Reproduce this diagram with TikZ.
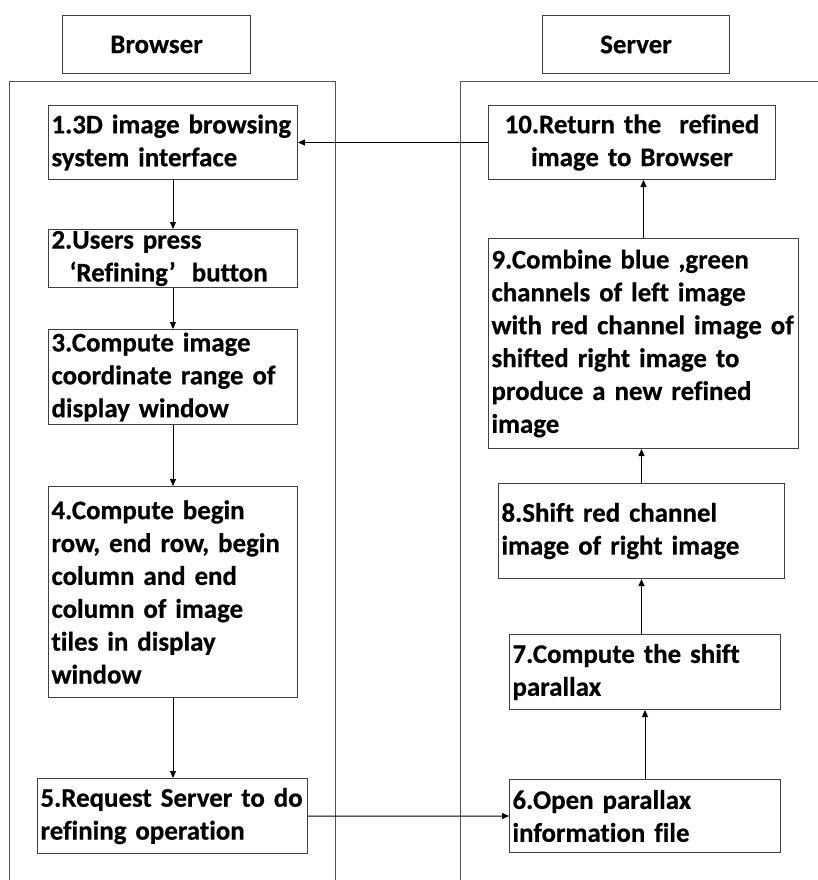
\documentclass[tikz,border=0pt]{standalone}
\usepackage{fontspec}
\setmainfont{Carlito}[Ligatures=NoCommon, BoldFeatures={FakeBold=0.5}]
\usetikzlibrary{arrows.meta}
\definecolor{boxgray}{HTML}{404040}
\definecolor{lanegray}{HTML}{555555}
\tikzset{
  box/.style={draw=boxgray, line width=1bp, inner xsep=3bp, inner ysep=0pt,
    anchor=north west, align=left, font=\bfseries\fontsize{27}{33}\selectfont},
  head/.style={draw=boxgray, line width=1bp, inner sep=0pt, anchor=north west,
    align=center, font=\bfseries\fontsize{27}{33}\selectfont},
  lane/.style={draw=lanegray, line width=1bp},
  arr/.style={draw=black, line width=1bp, -{Triangle[length=7bp,width=6bp]}}
}
\begin{document}
\begin{tikzpicture}[x=1bp,y=-1bp]
\useasboundingbox (0,0) rectangle (818,880);
% lanes
\draw[lane] (9,881) -- (9,81) -- (335,81) -- (335,881);
\draw[lane] (460,881) -- (460,81) -- (819,81);
% headers
\node[head, minimum width=188bp, minimum height=58bp] (hb) at (62,15) {Browser};
\node[head, minimum width=187bp, minimum height=58bp] (hs) at (542,15) {Server};
% browser boxes
\node[box, text width=243bp, minimum height=74bp] (b1) at (48,105)
  {1.3D image browsing\\system interface};
\node[box, text width=243bp, minimum height=58bp] (b2) at (48,229)
  {2.Users press\\\hspace*{18bp}‘Refining’\hspace{16bp}button};
\node[box, text width=243bp, minimum height=95bp] (b3) at (48,329)
  {3.Compute image\\coordinate range of\\display window};
\node[box, text width=243bp, minimum height=211bp] (b4) at (48,486)
  {4.Compute begin\\row, end row, begin\\column and end\\column of image\\tiles in display\\window};
\node[box, text width=264bp, minimum height=75bp] (b5) at (37,778)
  {5.Request Server to do\\refining operation};
% server boxes
\node[box, text width=281bp, minimum height=74bp, align=center] (b10) at (488,105)
  {10.Return the\ \ refined\\image to Browser};
\node[box, text width=304bp, minimum height=210bp] (b9) at (488,238)
  {9.Combine blue ,green\\channels of left image\\with red channel image of\\shifted right image to\\produce a new refined\\image};
\node[box, text width=280bp, minimum height=95bp] (b8) at (498,483)
  {8.Shift red channel\\image of right image};
\node[box, text width=265bp, minimum height=75bp] (b7) at (509,634)
  {7.Compute the shift\\parallax};
\node[box, text width=265bp, minimum height=73bp] (b6) at (509,779)
  {6.Open parallax\\information file};
% connectors
\draw[arr] (b1.south) -- (b1.south |- b2.north);
\draw[arr] (b2.south) -- (b2.south |- b3.north);
\draw[arr] (b3.south) -- (b3.south |- b4.north);
\draw[arr] (b4.south) -- (b4.south |- b5.north);
\draw[arr] (b5.east) -- (b6.west);
\draw[arr] (b6.north) -- (b6.north |- b7.south);
\draw[arr] (b7.north -| b8.south) -- (b8.south);
\draw[arr] (b8.north) -- (b8.north |- b9.south);
\draw[arr] (b9.north) -- (b9.north |- b10.south);
\draw[arr] (b10.west) -- (b1.east);
\end{tikzpicture}
\end{document}
